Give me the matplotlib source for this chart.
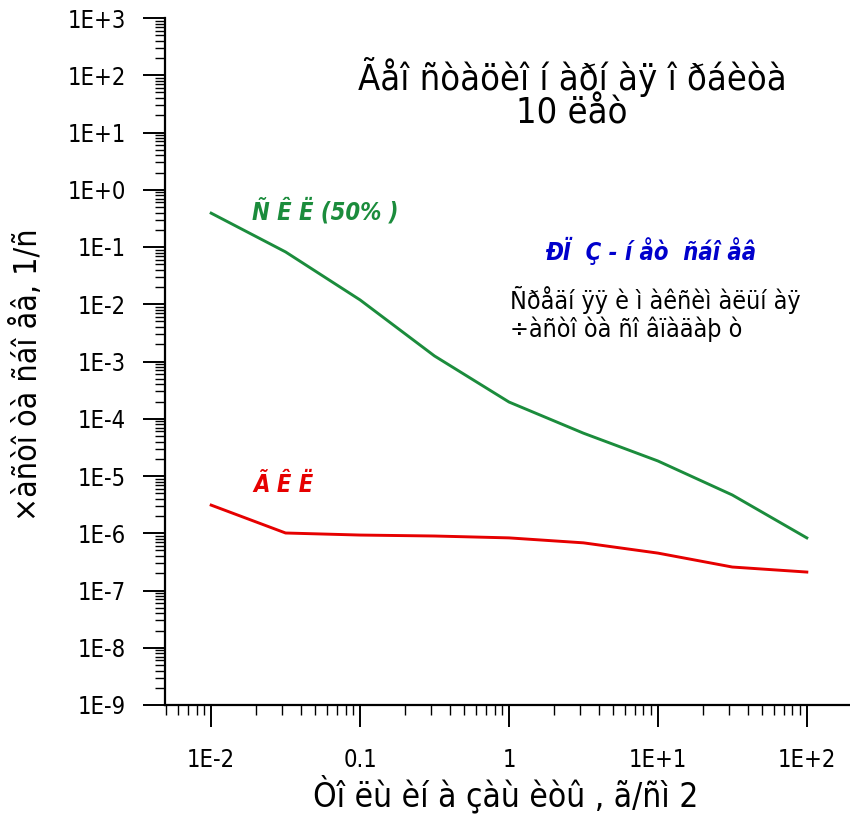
import matplotlib
matplotlib.use("Agg")
from matplotlib import pyplot as plt
from matplotlib.ticker import LogLocator, FixedLocator, FixedFormatter, NullFormatter
import numpy as np

plt.rcParams['font.family'] = ['DejaVu Sans']
plt.rcParams['font.stretch'] = 'condensed'

# shielding thickness, g/cm2
thickness = [0.01, 0.0316, 0.1, 0.316, 1, 3.16, 10, 31.6, 100]
# upset rates, 1/s
skl_rate = [3.9e-1, 8.2e-2, 1.19e-2, 1.25e-3, 1.96e-4, 5.6e-5, 1.83e-5, 4.66e-6, 8.3e-7]
gkl_rate = [3.1e-6, 1.01e-6, 9.3e-7, 8.95e-7, 8.3e-7, 6.8e-7, 4.5e-7, 2.57e-7, 2.1e-7]

y_ticks = [1e3, 1e2, 1e1, 1e0, 1e-1, 1e-2, 1e-3, 1e-4, 1e-5, 1e-6, 1e-7, 1e-8, 1e-9]
y_labels = ['1E+3', '1E+2', '1E+1', '1E+0', '1E-1', '1E-2', '1E-3', '1E-4',
            '1E-5', '1E-6', '1E-7', '1E-8', '1E-9']
x_ticks = [1e-2, 0.1, 1, 10, 100]
x_labels = ['1E-2', '0.1', '1', '1E+1', '1E+2']

title1 = 'Ãåî ñòàöèî í àðí àÿ î ðáèòà'
title2 = '10 ëåò'
ylabel = '×àñòî òà ñáî åâ, 1/ñ'
xlabel = 'Òî ëù èí à çàù èòû , ã/ñì 2'

W, H = 850, 814
fig = plt.figure(figsize=(8.5, 8.14), dpi=100)
ax = fig.add_axes([165 / W, 1 - 705 / H, 1 - 165 / W, (705 - 18) / H])

ax.plot(thickness, skl_rate, color='#1b8c3c', lw=2.1)
ax.plot(thickness, gkl_rate, color='#e60000', lw=2.1)

ax.set_xscale('log')
ax.set_yscale('log')
ax.set_xlim(10 ** -2.31, 10 ** 2.29)
ax.set_ylim(1e-9, 1e3)

ax.yaxis.set_major_locator(FixedLocator(y_ticks))
ax.yaxis.set_major_formatter(FixedFormatter(y_labels))
ax.yaxis.set_minor_locator(LogLocator(base=10, subs=np.arange(2, 10), numticks=100))
ax.yaxis.set_minor_formatter(NullFormatter())
ax.xaxis.set_major_locator(FixedLocator(x_ticks))
ax.xaxis.set_major_formatter(FixedFormatter(x_labels))
ax.xaxis.set_minor_locator(LogLocator(base=10, subs=np.arange(2, 10), numticks=100))
ax.xaxis.set_minor_formatter(NullFormatter())

for s in ['top', 'right']:
    ax.spines[s].set_visible(False)
for s in ['left', 'bottom']:
    ax.spines[s].set_linewidth(1.6)

ax.tick_params(which='major', direction='out', length=16, width=1.4, labelsize=17)
ax.tick_params(which='minor', direction='out', length=7, width=1.0)
ax.tick_params(axis='y', which='major', pad=12)
ax.tick_params(axis='x', which='major', pad=15)

fig.text(28 / W, 1 - 375 / H, ylabel, rotation=90, ha='center', va='center', fontsize=23)
fig.text(506 / W, 1 - 794 / H, xlabel, ha='center', va='center', fontsize=24)

fig.text(572 / W, 1 - 77 / H, title1, ha='center', va='center', fontsize=26)
fig.text(572 / W, 1 - 113 / H, title2, ha='center', va='center', fontsize=26)

fig.text(325 / W, 1 - 211 / H, 'Ñ Ê Ë (50% )', ha='center', va='center', fontsize=17,
         color='#1b8c3c', fontweight='bold', fontstyle='italic')
fig.text(283 / W, 1 - 485 / H, 'Ã Ê Ë', ha='center', va='center', fontsize=17,
         color='#e60000', fontweight='bold', fontstyle='italic')
fig.text(651 / W, 1 - 251 / H, 'ÐÏ  Ç - í åò  ñáî åâ', ha='center', va='center', fontsize=17,
         color='#0000cc', fontweight='bold', fontstyle='italic')
fig.text(510 / W, 1 - 300 / H, 'Ñðåäí ÿÿ è ì àêñèì àëüí àÿ', ha='left', va='center', fontsize=18)
fig.text(510 / W, 1 - 329 / H, '÷àñòî òà ñî âïàäàþ ò', ha='left', va='center', fontsize=18)

fig.savefig('out.png', dpi=100)
